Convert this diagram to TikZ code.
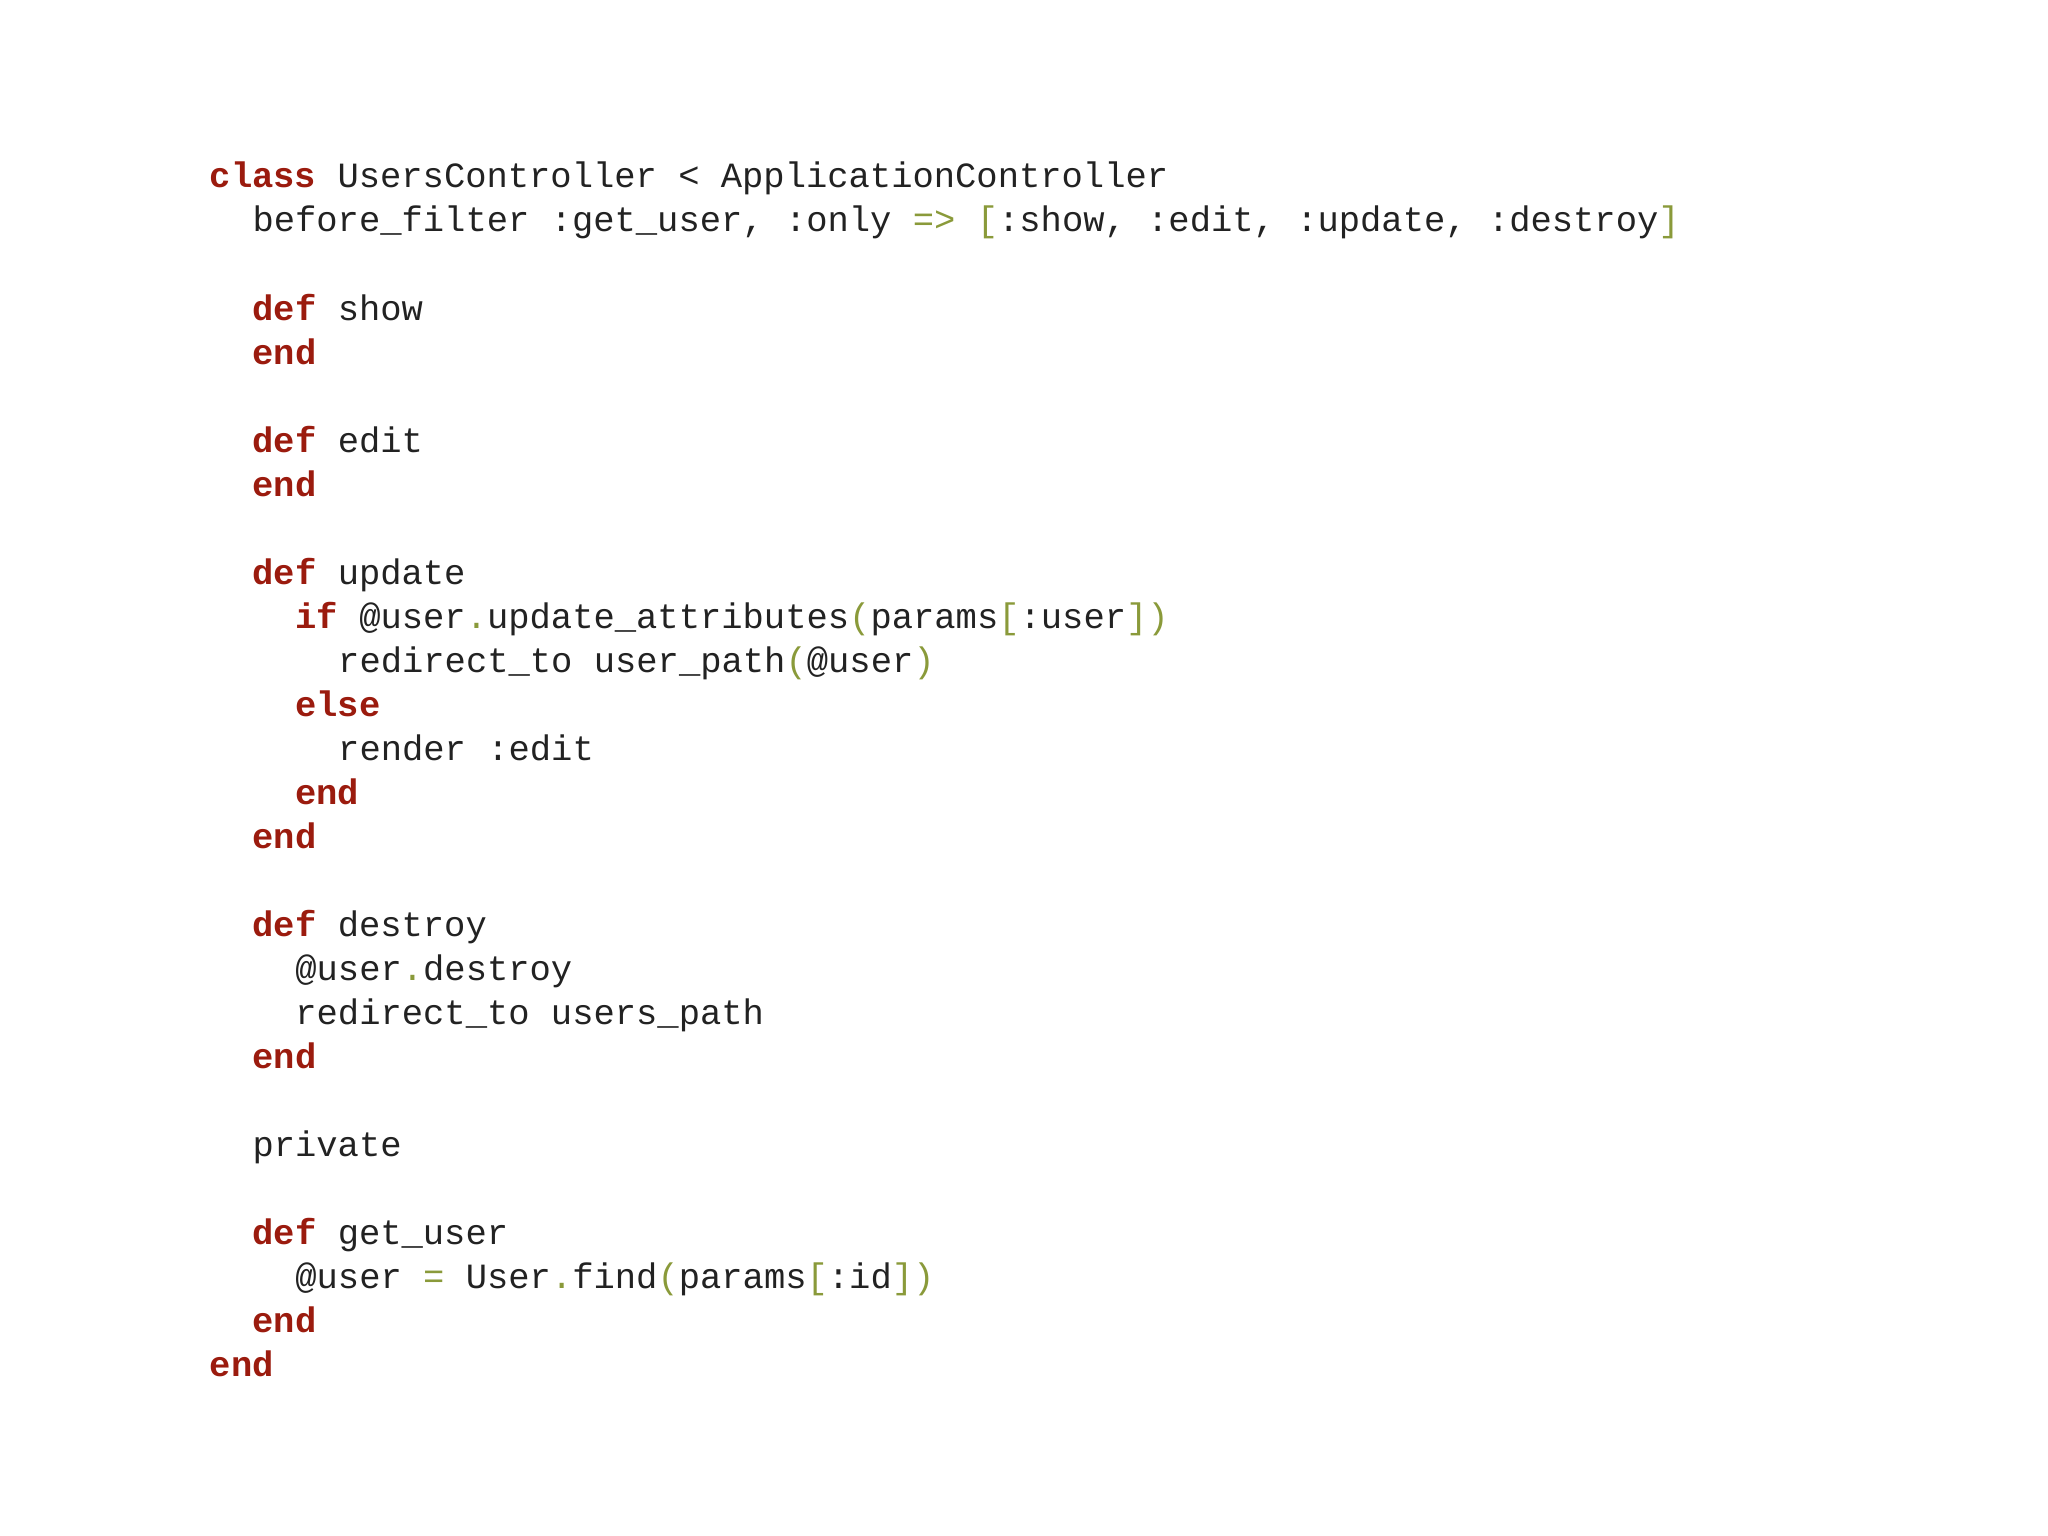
\documentclass[tikz,border=0pt]{standalone}
\usepackage{fontspec}
\setmonofont{Liberation Mono}
\definecolor{kwc}{HTML}{9B1B0E}
\definecolor{pnc}{HTML}{8A9A3A}
\definecolor{txc}{HTML}{222222}
\newcommand{\kw}[1]{\textcolor{kwc}{\bfseries #1}}
\newcommand{\pn}[1]{\textcolor{pnc}{#1}}
\begin{document}
\begin{tikzpicture}[code/.style={anchor=base west,inner sep=0pt,font=\fontsize{10.1}{12}\ttfamily,text=txc}]
\useasboundingbox (0,0) rectangle (20.48,15.36);
\def\cw{0.2142}\def\lh{0.4402}
\newcommand{\codeln}[4]{\node[code] (#1) at ({2.09+#2*\cw},{13.48-#3*\lh}) {#4};}
\codeln{l0}{0}{0}{\kw{class} UsersController < ApplicationController}
\codeln{l1}{2}{1}{before\_filter :get\_user, :only \pn{=>} \pn{[}:show, :edit, :update, :destroy\pn{]}}
\codeln{l3}{2}{3}{\kw{def} show}
\codeln{l4}{2}{4}{\kw{end}}
\codeln{l6}{2}{6}{\kw{def} edit}
\codeln{l7}{2}{7}{\kw{end}}
\codeln{l9}{2}{9}{\kw{def} update}
\codeln{l10}{4}{10}{\kw{if} @user\pn{.}update\_attributes\pn{(}params\pn{[}:user\pn{])}}
\codeln{l11}{6}{11}{redirect\_to user\_path\pn{(}@user\pn{)}}
\codeln{l12}{4}{12}{\kw{else}}
\codeln{l13}{6}{13}{render :edit}
\codeln{l14}{4}{14}{\kw{end}}
\codeln{l15}{2}{15}{\kw{end}}
\codeln{l17}{2}{17}{\kw{def} destroy}
\codeln{l18}{4}{18}{@user\pn{.}destroy}
\codeln{l19}{4}{19}{redirect\_to users\_path}
\codeln{l20}{2}{20}{\kw{end}}
\codeln{l22}{2}{22}{private}
\codeln{l24}{2}{24}{\kw{def} get\_user}
\codeln{l25}{4}{25}{@user \pn{=} User\pn{.}find\pn{(}params\pn{[}:id\pn{])}}
\codeln{l26}{2}{26}{\kw{end}}
\codeln{l27}{0}{27}{\kw{end}}
\end{tikzpicture}
\end{document}
